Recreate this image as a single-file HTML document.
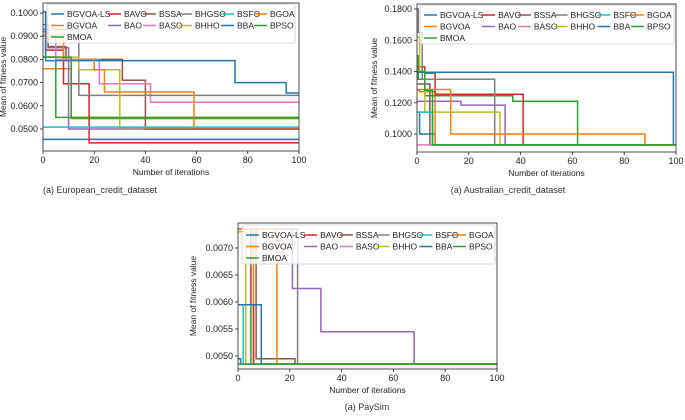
<!DOCTYPE html>
<html><head><meta charset="utf-8"><style>
body{margin:0;background:#fff;}
svg{display:block;font-family:"Liberation Sans","DejaVu Sans",sans-serif;}
</style></head><body>
<svg id="fig" width="685" height="420" viewBox="0 0 685 420"></svg>
<script>
const seriesNames=["BGVOA-LS","BGVOA","BMOA","BAVO","BAO","BSSA","BASO","BHGSO","BHHO","BSFO","BBA","BGOA","BPSO"];
const seriesColors=["#1f77b4","#ff7f0e","#2ca02c","#d62728","#9467bd","#8c564b","#e377c2","#7f7f7f","#bcbd22","#17becf","#1f77b4","#ff7f0e","#2ca02c"];
const xTicks=[0,20,40,60,80,100];
// step series: [iteration, value] pairs
const euroSteps=[
[[0,0.0455],[100,0.0455]],
[[0,0.0760],[11,0.0545],[100,0.0545]],
[[0,0.0810],[5,0.0550],[100,0.0550]],
[[0,0.0920],[1,0.0840],[8,0.0695],[18,0.0440],[100,0.0440]],
[[0,0.0920],[2,0.0850],[10,0.0500],[100,0.0500]],
[[0,0.0950],[2,0.0855],[9,0.0800],[31,0.0710],[40,0.0500],[100,0.0500]],
[[0,0.0900],[5,0.0800],[22,0.0695],[42,0.0615],[100,0.0615]],
[[0,0.0930],[14,0.0645],[100,0.0645]],
[[0,0.0810],[14,0.0755],[30,0.0505],[100,0.0505]],
[[0,0.0508],[100,0.0508]],
[[0,0.1005],[1,0.0795],[75,0.0700],[95,0.0655],[100,0.0655]],
[[0,0.0905],[8,0.0800],[20,0.0755],[24,0.0660],[59,0.0505],[100,0.0505]],
[[0,0.0810],[11,0.0548],[100,0.0548]]];
const euroYTicks=[0.05,0.06,0.07,0.08,0.09,0.10];
const ausSteps=[
[[0,0.114],[1,0.100],[7,0.093],[100,0.093]],
[[0,0.128],[1,0.127],[7,0.093],[100,0.093]],
[[0,0.150],[0.5,0.135],[3,0.1245],[37,0.121],[62,0.093],[100,0.093]],
[[0,0.143],[3,0.139],[7,0.1255],[41,0.093],[100,0.093]],
[[0,0.121],[17,0.1185],[34,0.093],[100,0.093]],
[[0,0.132],[5,0.093],[100,0.093]],
[[0,0.093],[100,0.093]],
[[0,0.180],[0.5,0.165],[2,0.135],[30,0.093],[100,0.093]],
[[0,0.162],[1,0.140],[3,0.114],[32,0.093],[100,0.093]],
[[0,0.114],[6,0.093],[100,0.093]],
[[0,0.1395],[99,0.093],[100,0.093]],
[[0,0.1285],[13,0.100],[88,0.093],[100,0.093]],
[[0,0.140],[3,0.128],[6,0.093],[100,0.093]]];
const ausYTicks=[0.10,0.12,0.14,0.16,0.18];
const paySteps=[
[[0,0.00495],[1,0.00485],[100,0.00485]],
[[0,0.00735],[6,0.00485],[100,0.00485]],
[[0,0.00595],[5,0.00485],[100,0.00485]],
[[0,0.00735],[5,0.00595],[6,0.00485],[100,0.00485]],
[[0,0.00735],[21,0.00625],[32,0.00545],[68,0.00485],[100,0.00485]],
[[0,0.00735],[7,0.00495],[22,0.00485],[100,0.00485]],
[[0,0.00485],[100,0.00485]],
[[0,0.00735],[23,0.00485],[100,0.00485]],
[[0,0.00730],[3,0.00485],[100,0.00485]],
[[0,0.00595],[2,0.00485],[100,0.00485]],
[[0,0.00595],[9,0.00485],[100,0.00485]],
[[0,0.00735],[15,0.00485],[100,0.00485]],
[[0,0.00485],[100,0.00485]]];
const payYTicks=[0.0050,0.0055,0.0060,0.0065,0.0070];

const NS="http://www.w3.org/2000/svg";
const svg=document.getElementById('fig');
function mk(tag,attrs,parent,text){const e=document.createElementNS(NS,tag);for(const k in attrs)e.setAttribute(k,attrs[k]);if(text!==undefined)e.textContent=text;(parent||svg).appendChild(e);return e;}

function drawChart(c){
  const g=mk('g',{});
  
  
  const xs=v=>c.x0+(v/100)*(c.x1-c.x0);
  const ys=v=>c.yA+(v-c.vA)*(c.yB-c.yA)/(c.vB-c.vA);
  const clip='clip-'+c.name;
  const cp=mk('clipPath',{id:clip},g);mk('rect',{x:c.x0-2,y:c.top,width:c.x1-c.x0+4,height:c.bot-c.top},cp);
  const lines=mk('g',{'clip-path':'url(#'+clip+')'},g);
  c.steps.forEach((s,i)=>{
    let d='';
    s.forEach((p,j)=>{const X=xs(p[0]).toFixed(1),Y=ys(p[1]).toFixed(1);
      if(j===0)d='M'+X+' '+Y;else{const py=ys(s[j-1][1]).toFixed(1);d+=' L'+X+' '+py+' L'+X+' '+Y;}});
    const p=mk('path',{d:d,fill:'none',stroke:seriesColors[i],'stroke-width':1.5},lines);
    
    
  });
  const frame=mk('rect',{x:c.xf0,y:c.top,width:c.xf1-c.xf0,height:c.bot-c.top,fill:'none',stroke:'#222','stroke-width':0.8},g);
  
  
  xTicks.forEach(t=>{const X=xs(t);mk('line',{x1:X,x2:X,y1:c.bot,y2:c.bot+3,stroke:'#222','stroke-width':0.8},g);
    const tx=mk('text',{x:X,y:c.bot+12,'font-size':9,'text-anchor':'middle',fill:'#222'},g,String(t));
    
    });
  c.yTicks.forEach(t=>{const Y=ys(t);mk('line',{x1:c.xf0,x2:c.xf0-3,y1:Y,y2:Y,stroke:'#222','stroke-width':0.8},g);
    const tx=mk('text',{x:c.xf0-5,y:Y+3,'font-size':9,'text-anchor':'end',fill:'#222'},g,t.toFixed(4));
    
    });
  const xt=mk('text',{x:(c.x0+c.x1)/2,y:c.bot+24,'font-size':8.5,'text-anchor':'middle',fill:'#222'},g,'Number of iterations');
  
  
  const yx=c.ytx,yy=(c.top+c.bot)/2;
  const yt=mk('text',{x:yx,y:yy,'font-size':8.5,'text-anchor':'middle',fill:'#222',transform:'rotate(-90 '+yx+' '+yy+')'},g,'Mean of fitness value');
  
  
  // legend
  const lg=mk('g',{},g);
  
  
  mk('rect',{x:c.lx,y:c.ly,width:c.lw,height:39,rx:2,fill:'#fff','fill-opacity':0.8,stroke:'#ccc','stroke-width':0.8},lg);
  const colX=[0,57,92,128,170,203].map(v=>v*c.ls);
  const colOf=[0,0,0,1,1,2,2,3,3,4,4,5,5],rowOf=[0,1,2,0,1,0,1,0,1,0,1,0,1];
  seriesNames.forEach((n,i)=>{const X=c.lx+4+colX[colOf[i]],Y=c.ly+10+rowOf[i]*11.5;
    const e=mk('g',{},lg);
    
    
    mk('line',{x1:X,x2:X+13,y1:Y,y2:Y,stroke:seriesColors[i],'stroke-width':1.5},e);
    mk('text',{x:X+16,y:Y+3,'font-size':8.5,fill:'#222'},e,n);});
  const cap=mk('text',{x:c.capX,y:c.capY,'font-size':9,'text-anchor':'middle',fill:'#333'},g,c.caption);
  
  
}
drawChart({name:'european-chart',steps:euroSteps,yTicks:euroYTicks,x0:43,x1:299,xf0:43,xf1:299,top:3,bot:151,yA:13,vA:0.10,yB:129,vB:0.05,ytx:6,lx:47,ly:4,lw:248,ls:1,caption:'(a) European_credit_dataset',capX:100,capY:193});
drawChart({name:'australian-chart',steps:ausSteps,yTicks:ausYTicks,x0:417,x1:676,xf0:417,xf1:676,top:4,bot:152,yA:9,vA:0.18,yB:134,vB:0.10,ytx:377,lx:420,ly:5,lw:254,ls:1.02,caption:'(a) Australian_credit_dataset',capX:508,capY:193});
drawChart({name:'paysim-chart',steps:paySteps,yTicks:payYTicks,x0:238,x1:497,xf0:238,xf1:497,top:223,bot:369,yA:248,vA:0.0070,yB:356,vB:0.0050,ytx:196,lx:242,ly:225,lw:253,ls:1.02,caption:'(a) PaySim',capX:367,capY:410});
</script>
</body></html>
